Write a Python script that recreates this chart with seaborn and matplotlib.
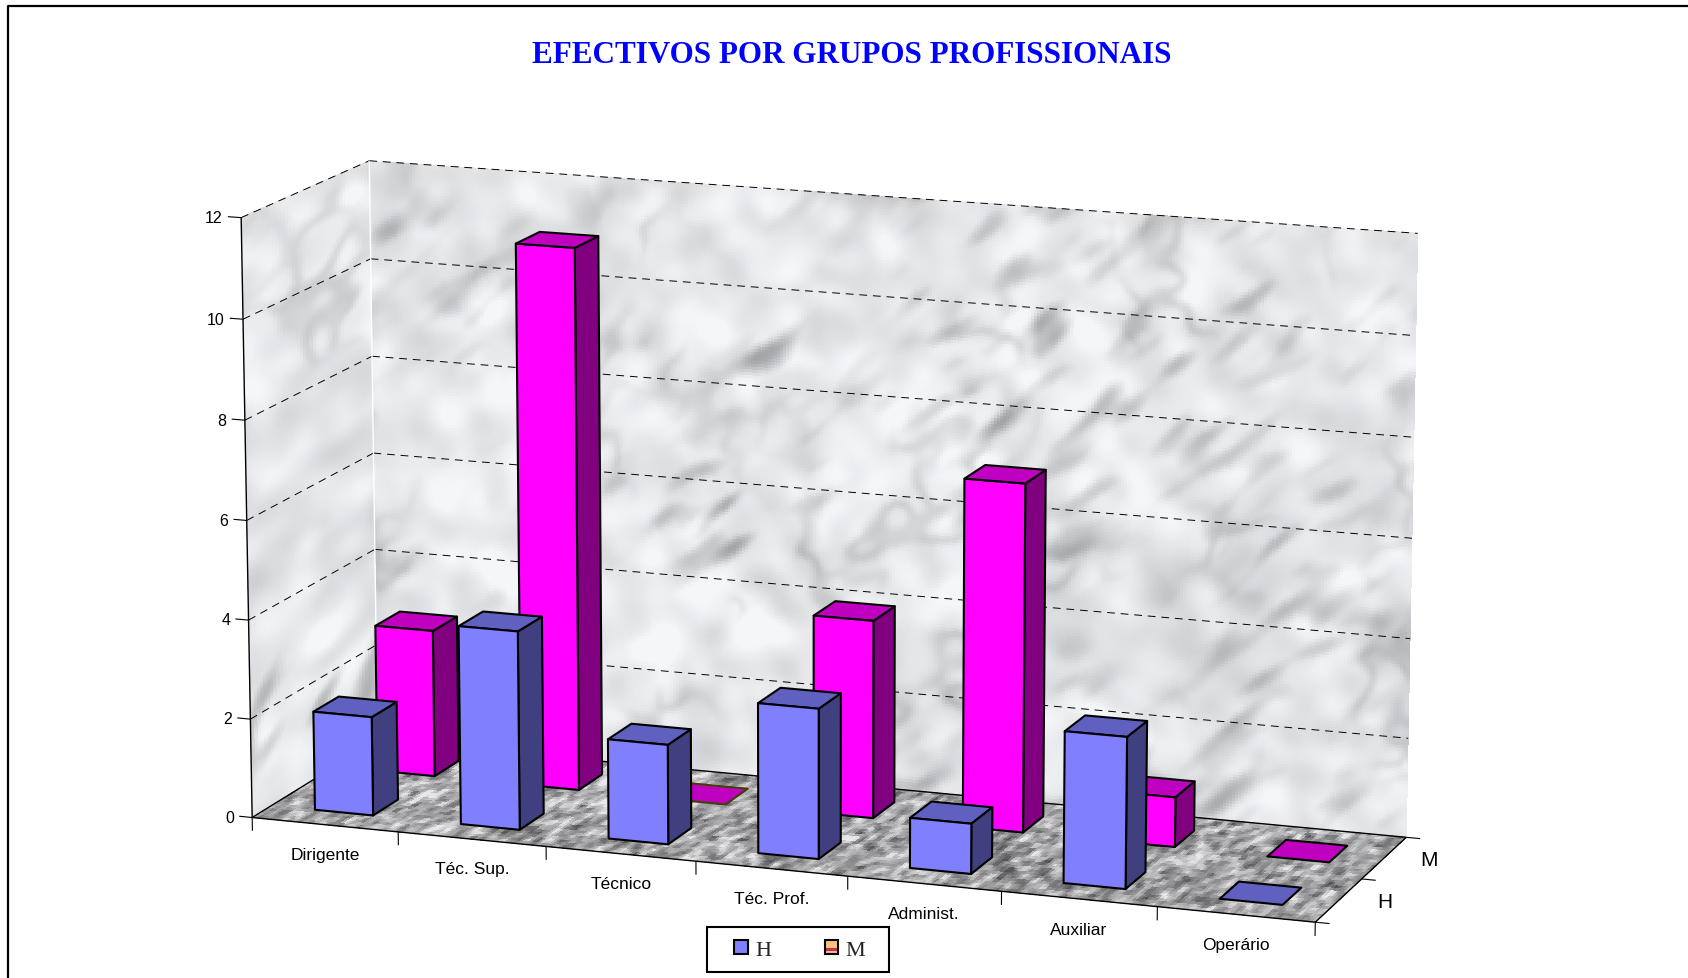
import numpy as np
import pandas as pd
import seaborn as sns
import matplotlib
matplotlib.use('Agg')
import matplotlib.pyplot as plt
from matplotlib.legend_handler import HandlerBase
from matplotlib.patches import Patch, Rectangle
from mpl_toolkits.mplot3d.art3d import Line3DCollection, Poly3DCollection

# Chart data
categories = ['Dirigente', 'Téc. Sup.', 'Técnico', 'Téc. Prof.', 'Administ.', 'Auxiliar', 'Operário']
values_h = [2, 4, 2, 3, 1, 3, 0]
values_m = [3, 11, 0, 4, 7, 1, 0]
z_ticks = [0, 2, 4, 6, 8, 10, 12]
title = 'EFECTIVOS POR GRUPOS PROFISSIONAIS'

W, H = 1688, 979
SANS = 'Liberation Sans'
SERIF = 'Liberation Serif'

row_depth = {'M': 0.75, 'H': 0.25}
row_colors = {
    'H': ('#8080FF', '#404080', '#6060C0'),
    'M': ('#FF00FF', '#800080', '#C000C0'),
}
BAR_W = 0.4
BAR_D = 0.2

# Box corners (category, depth, value) and where they land on the canvas
box_world = np.array([[0, 0, 0], [0, 0, 12], [0, 1, 12], [0, 1, 0], [7, 1, 12], [7, 1, 0], [7, 0, 0]], float)
box_canvas = np.array([[235, 760], [224, 202], [343, 151], [350, 689], [1317, 218], [1307, 777], [1221, 859]],
                      float) * W / 1568


def fit_camera(world, canvas):
    rows = []
    for (x, y, z), (u, v) in zip(world, canvas):
        rows.append([x, y, z, 1, 0, 0, 0, 0, -u * x, -u * y, -u * z, -u])
        rows.append([0, 0, 0, 0, x, y, z, 1, -v * x, -v * y, -v * z, -v])
    p = np.linalg.svd(np.array(rows))[2][-1].reshape(3, 4)
    if p[2, 3] < 0:
        p = -p
    # third row only has to sort far things first
    return np.vstack([p[0], p[1], [0, 0, 0, -1], p[2]])


def label(x, d, z, text, **kwargs):
    u, v, _, w = proj @ np.array([x, d, z, 1.0])
    fig.text(u / w / W, 1 - v / w / H, text, va='center', color='black', **kwargs)


def blur(img, sx, sy=None, angle=0.0):
    sy = sx if sy is None else sy
    fy = np.fft.fftfreq(img.shape[0])[:, None]
    fx = np.fft.fftfreq(img.shape[1])[None, :]
    a = np.deg2rad(angle)
    fu = fx * np.cos(a) + fy * np.sin(a)
    fv = -fx * np.sin(a) + fy * np.cos(a)
    gain = np.exp(-2 * np.pi ** 2 * ((fu * sx) ** 2 + (fv * sy) ** 2))
    return np.fft.ifft2(np.fft.fft2(img) * gain).real


def smooth(rng, shape, sx, sy=None, angle=0.0):
    out = blur(rng.standard_normal(shape), sx, sy, angle)
    return out / out.std()


def marble(rng, shape, angle=40):
    fractal = smooth(rng, shape, 9) + 0.55 * smooth(rng, shape, 4, 3, angle)
    mask = np.clip(smooth(rng, shape, 12) + 0.45, 0, 1.3)
    veins = np.exp(-(fractal / 0.42) ** 2) * mask
    streak = np.clip(smooth(rng, shape, 6, 2, angle) - 0.35, 0, 3) * np.clip(smooth(rng, shape, 18) + 0.6, 0, 1.3)
    gray = 229 + 4 * smooth(rng, shape, 20) + 7 * smooth(rng, shape, 3.5) - 24 * veins - 20 * streak
    gray = np.clip(blur(gray, 0.8), 135, 245) / 255
    return np.dstack([gray - 0.004, gray + 0.002, gray + 0.012, np.ones(shape)])


def granite(rng, shape):
    gray = 166 + 28 * smooth(rng, shape, 0.8, 0.7) + 12 * smooth(rng, shape, 2, 1.5)
    gray = np.clip(gray, 85, 232) / 255
    return np.dstack([gray, gray, gray + 0.008, np.ones(shape)])


def textured(ax, xs, ys, zs, colors):
    ax.plot_surface(xs, ys, zs, facecolors=colors, rstride=1, cstride=1, shade=False,
                    linewidth=0, antialiased=False, zorder=1)


def draw_lines(ax, segments, **kwargs):
    ax.add_collection3d(Line3DCollection(segments, **kwargs))


def box_faces(x0, x1, d0, d1, top):
    front = [(x0, d0, 0), (x1, d0, 0), (x1, d0, top), (x0, d0, top)]
    right = [(x1, d0, 0), (x1, d1, 0), (x1, d1, top), (x1, d0, top)]
    cap = [(x0, d0, top), (x1, d0, top), (x1, d1, top), (x0, d1, top)]
    return front, right, cap


class SwatchHandler(HandlerBase):
    def create_artists(self, legend, orig_handle, xdescent, ydescent, width, height, fontsize, trans):
        side = 0.62 * fontsize * 1.0
        x, y = -xdescent + width - side, -ydescent + (height - side) / 2
        parts = [Rectangle((x, y), side, side, facecolor=orig_handle.get_facecolor(), edgecolor='none',
                           transform=trans)]
        if orig_handle.get_label().startswith('M'):
            parts.append(Rectangle((x, y + 0.2 * side), side, 0.22 * side, facecolor='#C03060',
                                   edgecolor='none', transform=trans))
        parts.append(Rectangle((x, y), side, side, facecolor='none', edgecolor='black', linewidth=1.5,
                               transform=trans))
        return parts


sns.set_theme(style='white')
df = pd.DataFrame({'categoria': categories, 'H': values_h, 'M': values_m})
long_df = df.melt(id_vars='categoria', var_name='grupo', value_name='efectivos')
n_cat = len(categories)
z_top = z_ticks[-1]
rng = np.random.default_rng(11)

fig = plt.figure(figsize=(W / 100, H / 100), dpi=100, facecolor='white')
ax = fig.add_axes([0, 0, 1, 1], projection='3d', computed_zorder=False)
ax.set_xticks([])
ax.set_yticks([])
ax.set_zticks([])
ax.set_axis_off()
proj = fit_camera(box_world, box_canvas)
ax.get_proj = lambda: proj
ax.apply_aspect = lambda position=None: None

# Marble walls and floor
gx, gz = np.meshgrid(np.linspace(0, n_cat, 351), np.linspace(0, z_top, 201))
textured(ax, gx, np.ones_like(gx), gz, marble(rng, (200, 350)))
gd, gz = np.meshgrid(np.linspace(0, 1, 41), np.linspace(0, z_top, 201))
textured(ax, np.zeros_like(gd), gd, gz, marble(rng, (200, 40), angle=60))
gx, gd = np.meshgrid(np.linspace(0, n_cat, 351), np.linspace(0, 1, 36))
textured(ax, gx, gd, np.zeros_like(gx), granite(rng, (35, 350)))

# Dashed gridlines around the two walls
grid = []
for z in z_ticks[1:]:
    grid.append([(0, 0, z), (0, 1, z)])
    grid.append([(0, 1, z), (n_cat, 1, z)])
draw_lines(ax, grid, colors='black', linewidths=0.7, linestyles=[(0, (8, 6))], zorder=2)
draw_lines(ax, [[(0, 1, 0), (0, 1, z_top)]], colors='white', linewidths=1.0, zorder=2)

# Floor outline and axis lines
outline = [[(0, 0, 0), (n_cat, 0, 0)], [(n_cat, 0, 0), (n_cat, 1, 0)], [(n_cat, 1, 0), (0, 1, 0)],
           [(0, 1, 0), (0, 0, 0)], [(0, 0, 0), (0, 0, z_top)]]
draw_lines(ax, outline, colors='black', linewidths=1.0, zorder=3)
ticks = [[(-0.09, 0, z), (0, 0, z)] for z in z_ticks]
ticks += [[(i, 0, 0), (i, 0, -0.27)] for i in range(n_cat + 1)]
ticks += [[(n_cat, d, 0), (n_cat + 0.09, d, 0)] for d in [0, 0.5, 1]]
draw_lines(ax, ticks, colors='black', linewidths=0.8, zorder=3)

for z in z_ticks:
    label(-0.125, 0, z - 0.03, str(z), ha='right', fontsize=11.5, family=SANS)
for i, name in enumerate(categories):
    label(i + 0.5, 0, -0.6, name, ha='center', fontsize=12.5, family=SANS)
for name, d in row_depth.items():
    label(n_cat + 0.29, d, 0.06, name, ha='center', fontsize=15, family=SANS)

# Bars, back row first
order = 4
for grupo in ['M', 'H']:
    rows = long_df[long_df['grupo'] == grupo].reset_index(drop=True)
    front_c, right_c, top_c = row_colors[grupo]
    d_mid = row_depth[grupo]
    for i, v in enumerate(rows['efectivos']):
        x0, x1 = i + 0.5 - BAR_W / 2, i + 0.5 + BAR_W / 2
        d0, d1 = d_mid - BAR_D / 2, d_mid + BAR_D / 2
        front, right, cap = box_faces(x0, x1, d0, d1, v)
        edge = 'black'
        if v > 0:
            verts, cols = [front, right, cap], [front_c, right_c, top_c]
        else:
            verts, cols = [cap], [top_c]
            if rows['categoria'][i] == 'Técnico':
                edge = '#404000'
        ax.add_collection3d(Poly3DCollection(verts, facecolors=cols, edgecolors=edge, linewidths=1.5,
                                             zorder=order))
        order += 1

# Page border and title
fig.add_artist(plt.Line2D([7.5 / W, 7.5 / W, 1], [0, 1 - 6.5 / H, 1 - 6.5 / H], color='black', lw=1.6))
fig.text(852 / W, 1 - 55.5 / H, title, ha='center', va='center', fontsize=22.4, fontweight='bold',
         family=SERIF, color='#0000FF')

handles = [Patch(facecolor=row_colors['H'][0], label='H'), Patch(facecolor='#FFC080', label='M\u2002')]
leg = fig.legend(handles=handles, loc='center', bbox_to_anchor=(798 / W, 1 - 950.5 / H), ncol=2,
                 handler_map={Patch: SwatchHandler()}, prop={'family': SERIF, 'size': 16},
                 frameon=True, fancybox=False, framealpha=1, edgecolor='black',
                 handlelength=1.3, handleheight=0.7, handletextpad=0.35, columnspacing=1.7,
                 borderpad=0.55, borderaxespad=0)
leg.get_frame().set_linewidth(1.5)

# 2D limits of the 3D axes are canvas pixels, set last
ax.viewLim.intervalx = (0, W)
ax.viewLim.intervaly = (H, 0)

fig.savefig('out.png', dpi=100)
